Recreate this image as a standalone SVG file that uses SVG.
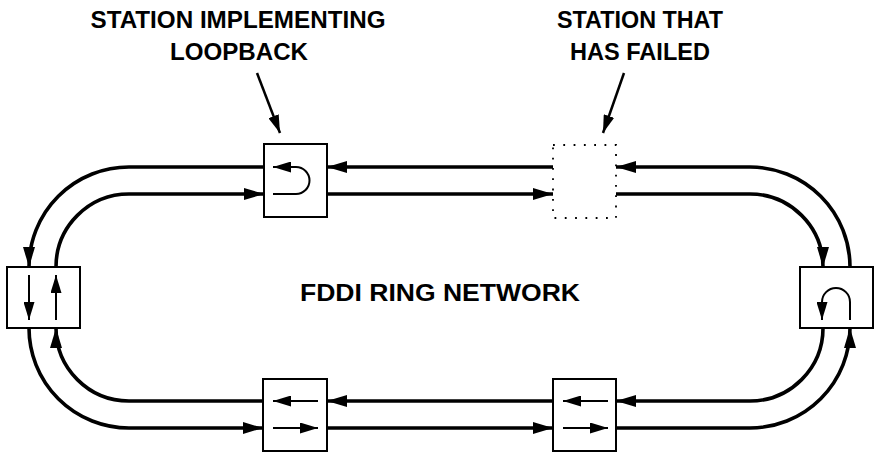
<svg xmlns="http://www.w3.org/2000/svg" width="875" height="452" viewBox="0 0 875 452">
<style>
.ring{fill:none;stroke:#000;stroke-width:3.6;marker-end:url(#ah)}
.inner{fill:none;stroke:#000;stroke-width:2;marker-end:url(#ah2)}
.ptr{fill:none;stroke:#000;stroke-width:2.5;marker-end:url(#ah2)}
.box{fill:#fff;stroke:#000;stroke-width:2}
.dot{fill:none;stroke:#000;stroke-width:1.8;stroke-dasharray:1.8 8.5}
.lbl{font-family:"Liberation Sans",Arial,sans-serif;font-weight:bold;font-size:23px;fill:#000;text-anchor:middle}
</style>
<defs>
<marker id="ah" markerUnits="userSpaceOnUse" markerWidth="20" markerHeight="12" refX="20" refY="6" orient="auto"><path d="M0,0 L20,6 L0,12 z" fill="#000"/></marker>
<marker id="ah2" markerUnits="userSpaceOnUse" markerWidth="18" markerHeight="11" refX="18" refY="5.5" orient="auto"><path d="M0,0 L18,5.5 L0,11 z" fill="#000"/></marker>
</defs>
<g id="connectors">
<path class="ring" d="M850,267 A100,100 0 0 0 750,167 L616,167"/>
<path class="ring" d="M553,167 L327,167"/>
<path class="ring" d="M264,167 L129,167 A100,100 0 0 0 29,267"/>
<path class="ring" d="M29,328 A100,100 0 0 0 129,428 L263,428"/>
<path class="ring" d="M327,428 L553,428"/>
<path class="ring" d="M616,428 L750,428 A100,100 0 0 0 850,328"/>
<path class="ring" d="M327,194 L553,194"/>
<path class="ring" d="M616,194 L750,194 A73,73 0 0 1 823,267"/>
<path class="ring" d="M823,328 A73,73 0 0 1 750,401 L616,401"/>
<path class="ring" d="M553,401 L327,401"/>
<path class="ring" d="M263,401 L129,401 A73,73 0 0 1 56,328"/>
<path class="ring" d="M56,267 A73,73 0 0 1 129,194 L264,194"/>
<path class="ptr" d="M257,73 L280,133"/>
<path class="ptr" d="M624,73 L603,133"/>
</g>
<g id="loopback-station">
<rect class="box" x="264" y="144" width="63" height="73"/>
<path class="inner" d="M273,194 L296,194 A13.5,13.5 0 0 0 296,167 L273,167"/>
</g>
<g id="failed-station">
<path class="dot" d="M553,145 L616,145 L616,218 L553,218 Z"/>
</g>
<g id="left-station">
<rect class="box" x="7" y="267" width="73" height="61"/>
<path class="inner" d="M29,275 L29,320"/>
<path class="inner" d="M56,320 L56,275"/>
</g>
<g id="right-station">
<rect class="box" x="800" y="267" width="73" height="61"/>
<path class="inner" d="M850,320 L850,302 A14,14 0 0 0 822,302 L822,320"/>
</g>
<g id="bottom-station-1">
<rect class="box" x="263" y="379" width="64" height="72"/>
<path class="inner" d="M318,401 L273,401"/>
<path class="inner" d="M273,428 L318,428"/>
</g>
<g id="bottom-station-2">
<rect class="box" x="553" y="379" width="63" height="72"/>
<path class="inner" d="M608,401 L563,401"/>
<path class="inner" d="M563,428 L608,428"/>
</g>
<g id="labels">
<text class="lbl" x="238" y="28" textLength="295" lengthAdjust="spacingAndGlyphs">STATION IMPLEMENTING</text>
<text class="lbl" x="239" y="60" textLength="138" lengthAdjust="spacingAndGlyphs">LOOPBACK</text>
<text class="lbl" x="640" y="28" textLength="166" lengthAdjust="spacingAndGlyphs">STATION THAT</text>
<text class="lbl" x="640" y="60" textLength="140" lengthAdjust="spacingAndGlyphs">HAS FAILED</text>
<text class="lbl" x="440" y="301" textLength="280" lengthAdjust="spacingAndGlyphs" style="font-size:24px">FDDI RING NETWORK</text>
</g>
</svg>
